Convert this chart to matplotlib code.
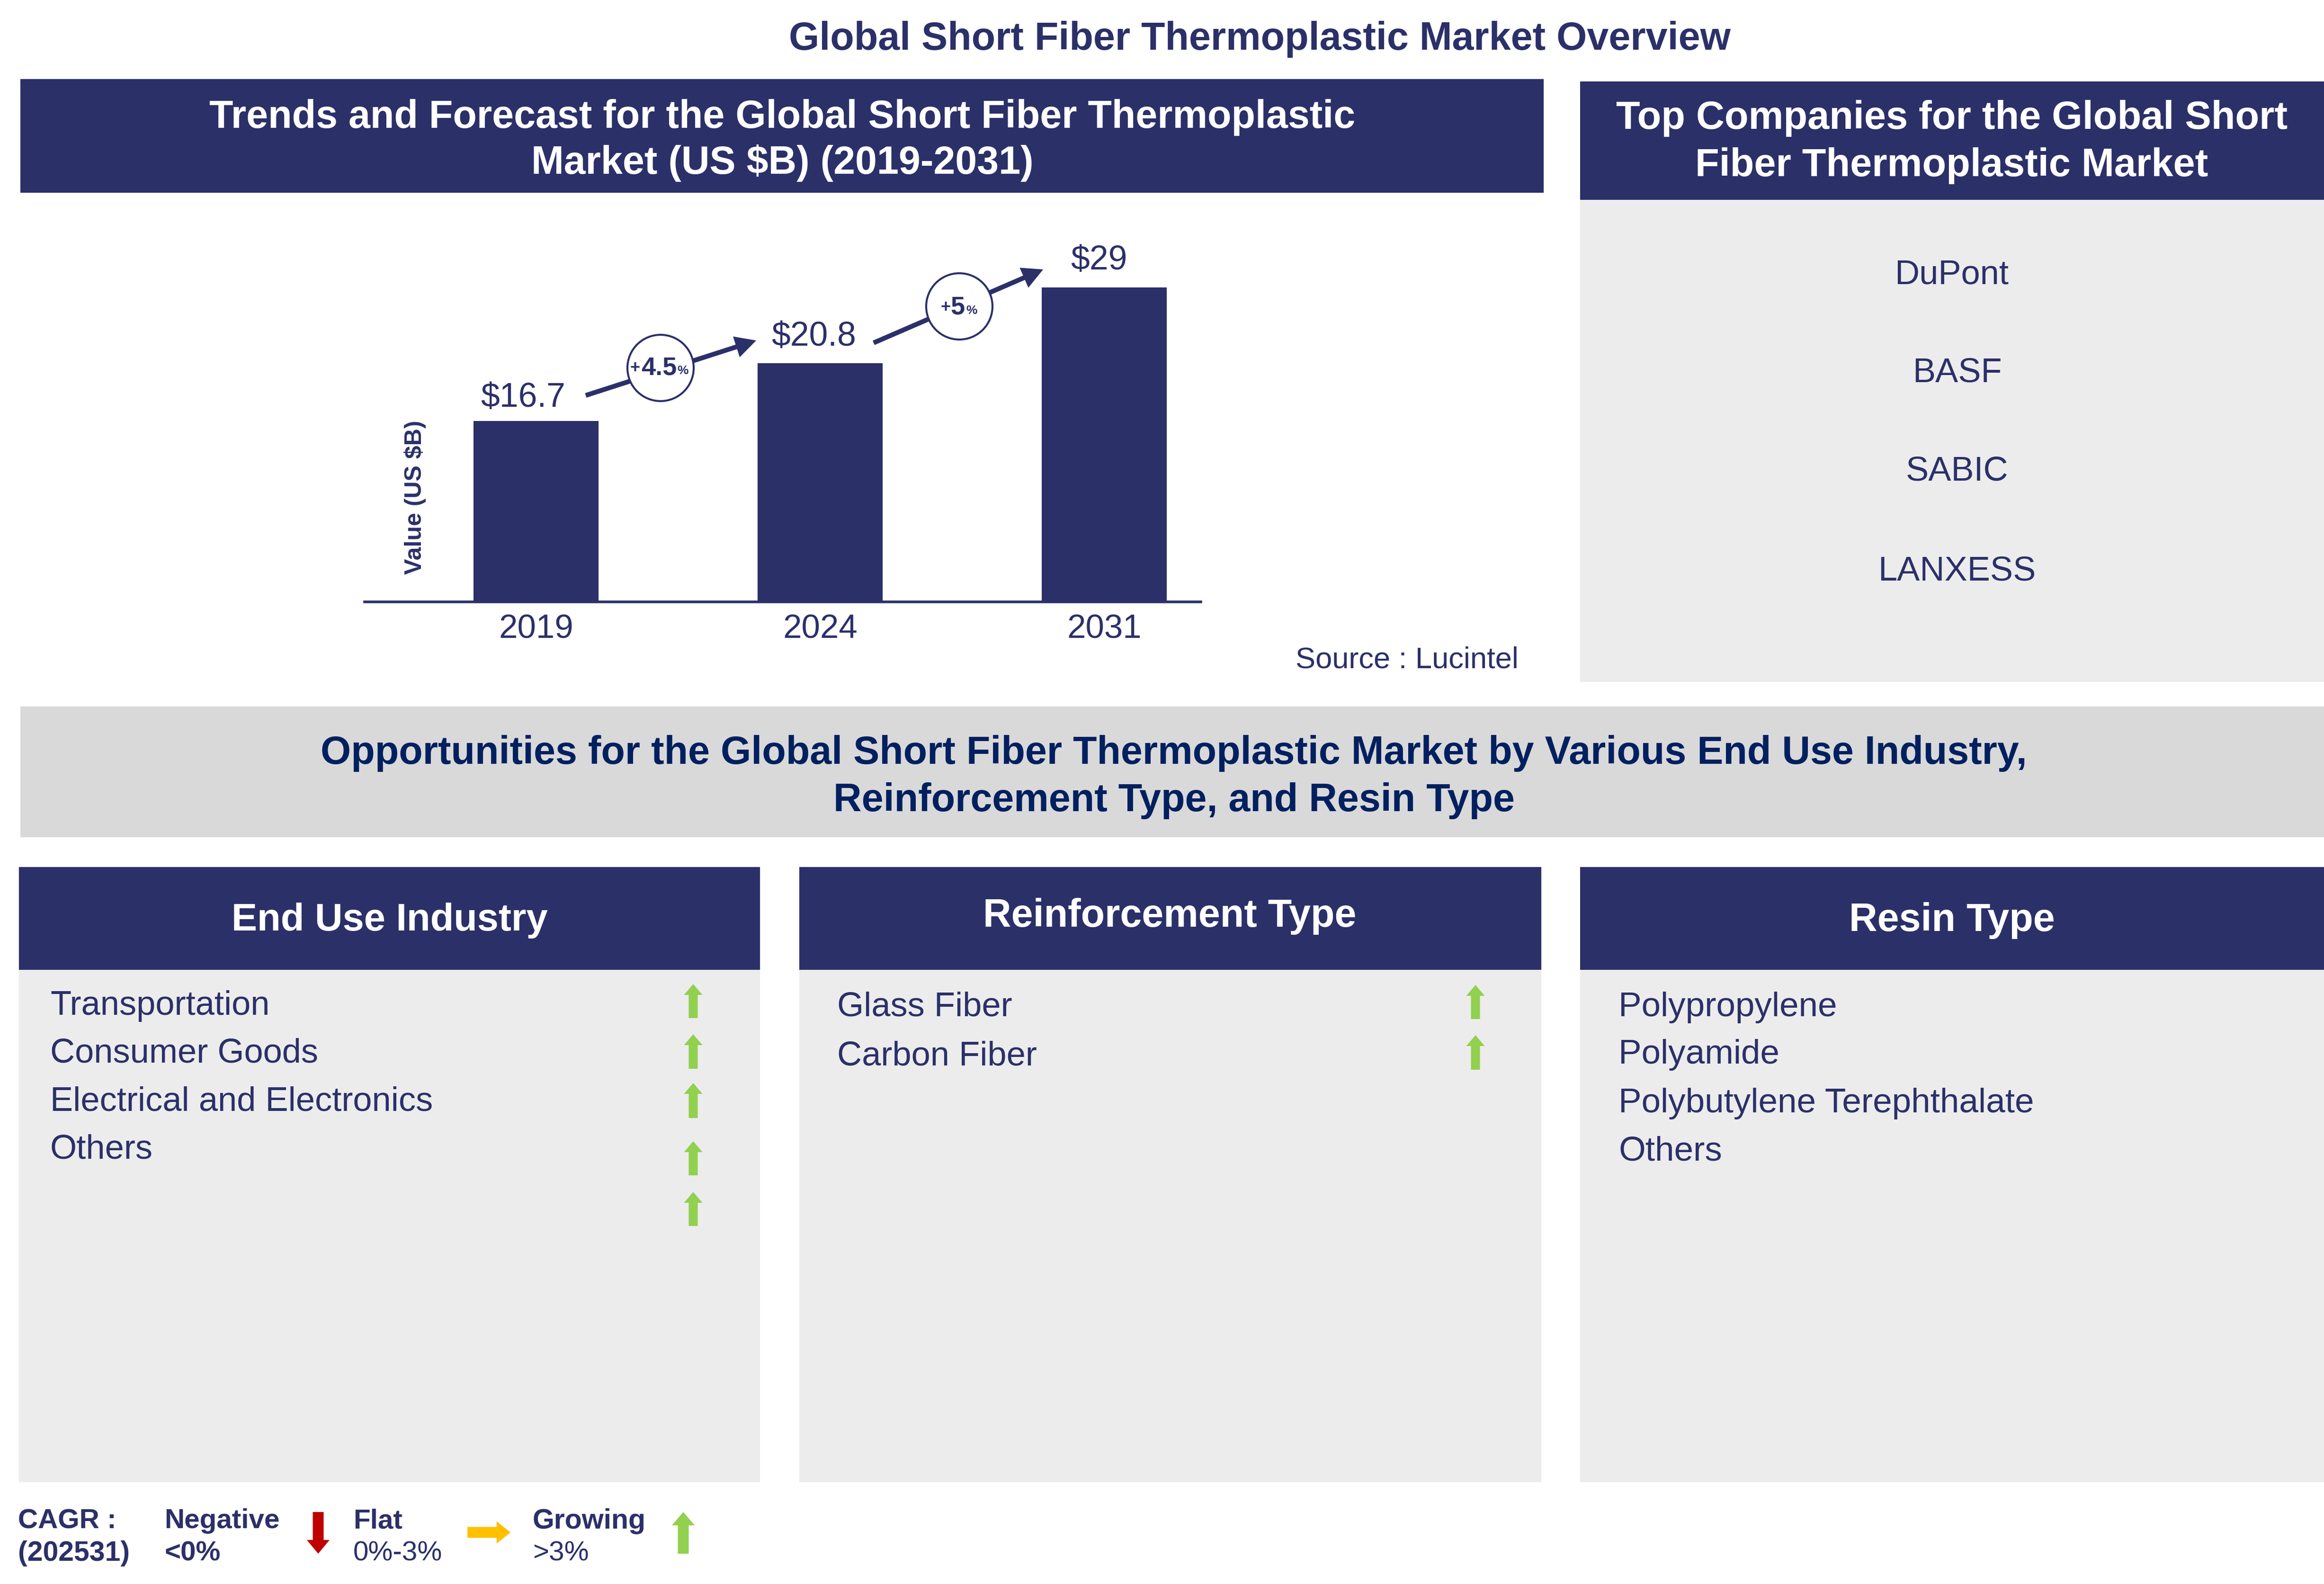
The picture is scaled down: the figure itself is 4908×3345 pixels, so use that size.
import matplotlib

matplotlib.use("Agg")
import matplotlib.pyplot as plt
from matplotlib.patches import Circle, Rectangle

plt.rcParams["font.family"] = ["Liberation Sans", "DejaVu Sans"]

W = 4908
H = 3345

NAVY = "#2B3069"
BAND_TEXT = "#002060"
GREY = "#ECECEC"
BAND = "#D9D9D9"
GREEN = "#92D050"
RED = "#C00000"
YELLOW = "#FFC000"

# bar chart data
years = ["2019", "2024", "2031"]
value_labels = ["$16.7", "$20.8", "$29"]
# bar heights as drawn in the picture, the 2024 bar is taller than its label
bar_heights = [16.7, 22.0, 29.0]

companies = ["DuPont", "BASF", "SABIC", "LANXESS"]
end_use = ["Transportation", "Consumer Goods", "Electrical and Electronics", "Others"]
reinforcement = ["Glass Fiber", "Carbon Fiber"]
resin = ["Polypropylene", "Polyamide", "Polybutylene Terephthalate", "Others"]

fig = plt.figure(figsize=(W / 100, H / 100), dpi=100, facecolor="white")

# overlay in pixel coords for panels and text
ov = fig.add_axes([0, 0, 1, 1], zorder=1)
ov.set_xlim(0, W)
ov.set_ylim(H, 0)
ov.axis("off")


def box(x0, y0, x1, y1, color):
    ov.add_patch(Rectangle((x0, y0), x1 - x0, y1 - y0, facecolor=color, edgecolor="none"))


def label(x, y, s, size=52, color=NAVY, weight="normal", ha="left"):
    ov.text(x, y + 5, s, fontsize=size, color=color, fontweight=weight, ha=ha, va="center")


def arrow(x0, y0, x1, y1, shaft, head_w, head_l, color, z=3):
    ov.arrow(x0, y0, x1 - x0, y1 - y0, width=shaft, head_width=head_w, head_length=head_l,
             length_includes_head=True, facecolor=color, edgecolor="none", zorder=z)


# panels
box(43, 167, 3260, 407, NAVY)
box(3337, 172, 4908, 422, NAVY)
box(3337, 422, 4908, 1440, GREY)
box(43, 1492, 4908, 1768, BAND)
for x0, x1 in [(40, 1605), (1688, 3255), (3337, 4908)]:
    box(x0, 1831, x1, 2048, NAVY)
    box(x0, 2048, x1, 3130, GREY)

# titles
label(2660, 78, "Global Short Fiber Thermoplastic Market Overview", 59.5, NAVY, "bold", "center")
label(1652, 243, "Trends and Forecast for the Global Short Fiber Thermoplastic", 59.5, "white", "bold", "center")
label(1652, 340, "Market (US $B) (2019-2031)", 59.5, "white", "bold", "center")
label(4122, 245, "Top Companies for the Global Short", 59.8, "white", "bold", "center")
label(4122, 345, "Fiber Thermoplastic Market", 59.8, "white", "bold", "center")
label(2479, 1586, "Opportunities for the Global Short Fiber Thermoplastic Market by Various End Use Industry,",
      59.5, BAND_TEXT, "bold", "center")
label(2479, 1686, "Reinforcement Type, and Resin Type", 59.5, BAND_TEXT, "bold", "center")
label(823, 1939, "End Use Industry", 58.5, "white", "bold", "center")
label(2470, 1930, "Reinforcement Type", 59.5, "white", "bold", "center")
label(4122, 1939, "Resin Type", 59.5, "white", "bold", "center")

# companies
for s, x, y in zip(companies, [4122, 4133, 4133, 4133], [576, 783, 991, 1202]):
    label(x, y, s, 52, ha="center")

# lists
for s, y in zip(end_use, [2119, 2220, 2322, 2423]):
    label(106, y, s)
for s, y in zip(reinforcement, [2122, 2226]):
    label(1768, y, s)
for s, y in zip(resin, [2122, 2222, 2325, 2427]):
    label(3418, y, s, 52.5)

# green cagr arrows
for tip, bottom in [(2078, 2150), (2184, 2257), (2287, 2361), (2410, 2482), (2517, 2589)]:
    arrow(1464, bottom, 1464, tip, 19, 39, 23, GREEN)
for tip, bottom in [(2080, 2152), (2186, 2259)]:
    arrow(3116, bottom, 3116, tip, 19, 39, 23, GREEN)

label(2736, 1389, "Source : Lucintel", 45.5)

# legend
label(38, 3207, "CAGR :", 42, NAVY, "bold")
label(38, 3275, "(202531)", 42.5, NAVY, "bold")
label(347, 3207, "Negative", 42, NAVY, "bold")
label(347, 3275, "<0%", 42, NAVY, "bold")
label(746, 3207, "Flat", 42, NAVY, "bold")
label(746, 3275, "0%-3%", 42)
label(1125, 3207, "Growing", 42.5, NAVY, "bold")
label(1125, 3275, ">3%", 42)
arrow(672, 3193, 672, 3281, 23, 48, 29, RED)
arrow(987, 3236, 1078, 3236, 23, 47, 29, YELLOW)
arrow(1443, 3281, 1443, 3193, 23, 48, 28, GREEN)

# bar chart, baseline at y=1271, 2019 bar centre at x=1132, 600 px per category
ax = fig.add_axes([770 / W, 1 - 1271 / H, (2536 - 770) / W, (1271 - 500) / H], zorder=2)
ax.patch.set_visible(False)
pos = list(range(len(years)))
ax.bar(pos, bar_heights, width=0.44, color=NAVY)
ax.set_xlim(-0.603, 2.34)
ax.set_ylim(0, 29 * 771 / 664)
ax.set_yticks([])
ax.set_xticks(pos)
ax.set_xticklabels(years, fontsize=51, color=NAVY)
ax.tick_params(axis="x", length=0, pad=18)
for side in ["top", "left", "right"]:
    ax.spines[side].set_visible(False)
ax.spines["bottom"].set_color(NAVY)
ax.spines["bottom"].set_linewidth(4)
for p, h, s, dx, dy in zip(pos, bar_heights, value_labels, [-27, -13, -11], [35, 40, 41]):
    ax.annotate(s, (p, h), xytext=(dx * 0.72, dy), textcoords="offset points", fontsize=51.5,
                color=NAVY, ha="center", va="center")
ov.text(877, 1050, "Value (US $B)", fontsize=36, color=NAVY, fontweight="bold",
        rotation=90, ha="center", va="center")

# growth arrows with circles
arrow(1237, 835, 1597, 719, 10, 46, 44, NAVY)
arrow(1845, 724, 2203, 569, 10, 46, 44, NAVY)
for cx, cy in [(1395, 777), (2026, 647)]:
    ov.add_patch(Circle((cx, cy), 70, facecolor="white", edgecolor=NAVY, linewidth=3, zorder=4))
for x_plus, x_num, x_pct, y, s in [(1331, 1354, 1430, 777, "4.5"), (1986, 2007, 2040, 650, "5")]:
    ov.text(x_plus, y, "+", fontsize=26, color=NAVY, fontweight="bold", ha="left", va="center", zorder=5)
    ov.text(x_num, y, s, fontsize=39, color=NAVY, fontweight="bold", ha="left", va="center", zorder=5)
    ov.text(x_pct, y + 6, "%", fontsize=19, color=NAVY, fontweight="bold", ha="left", va="center", zorder=5)

fig.savefig("out.png", dpi=100, facecolor="white")
